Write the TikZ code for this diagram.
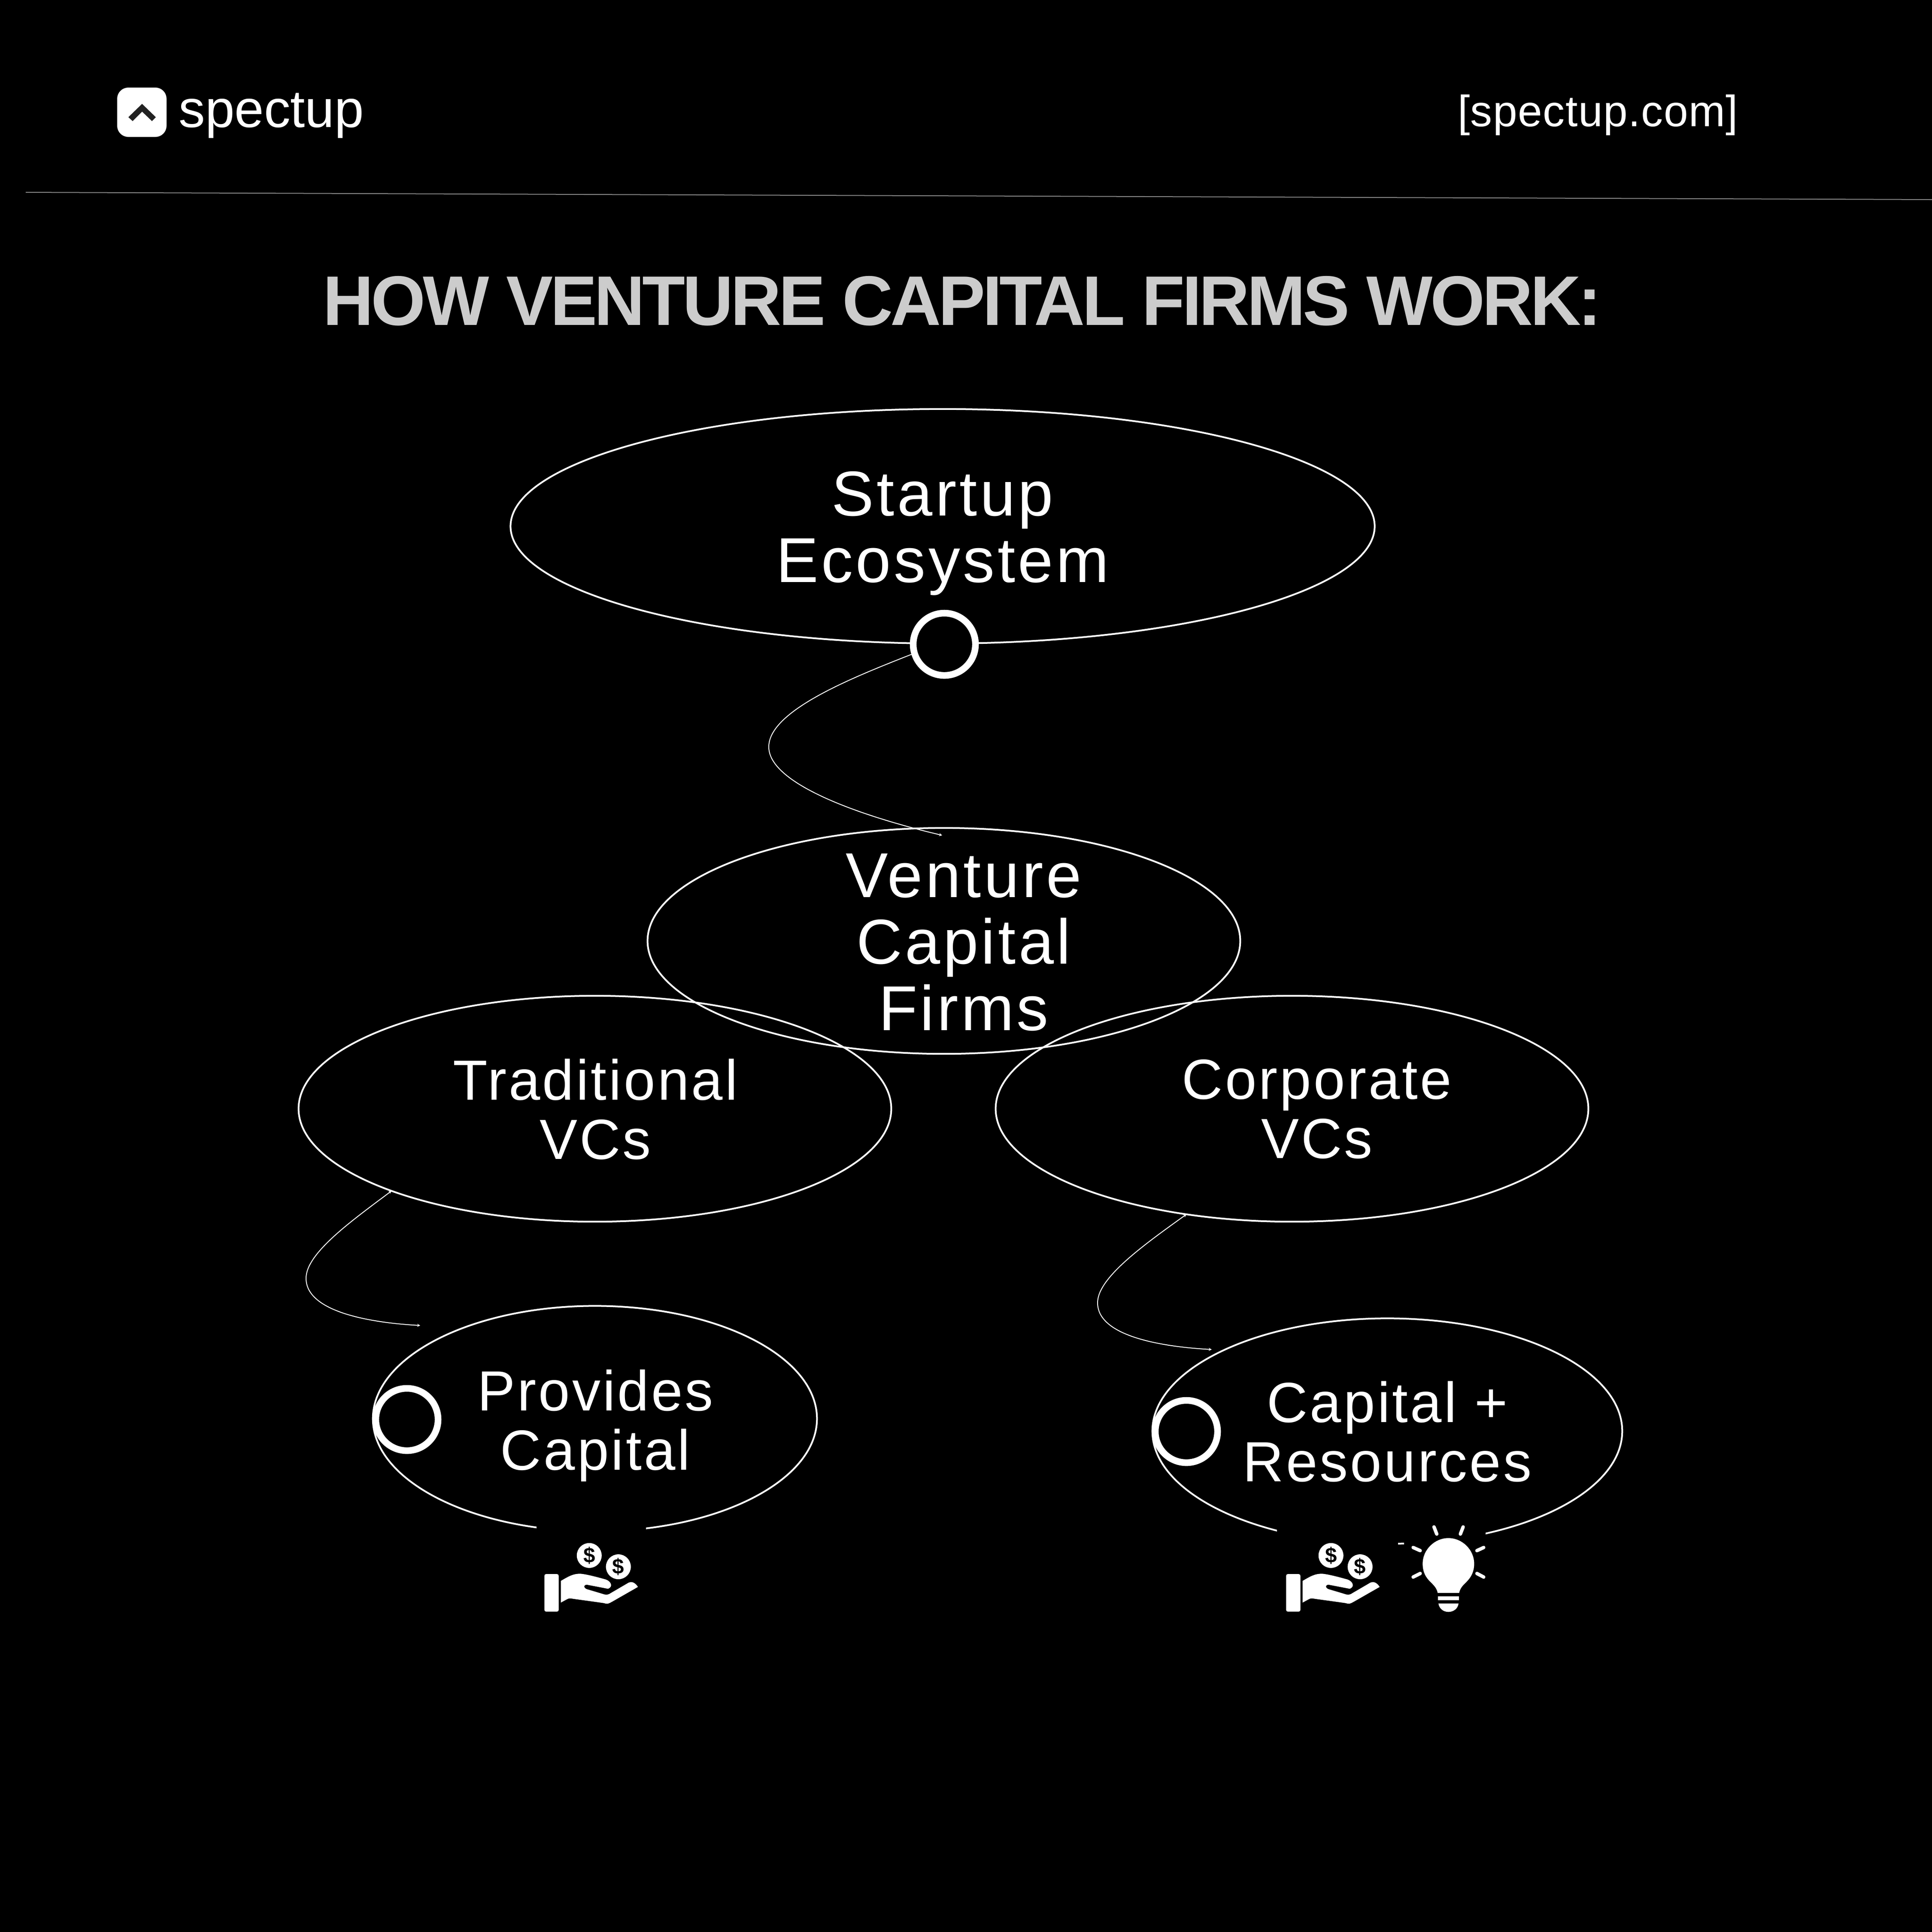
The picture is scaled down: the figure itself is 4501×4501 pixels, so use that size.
\documentclass[tikz,border=0pt]{standalone}
\usepackage{fontspec}
\setmainfont{Liberation Sans}
\newfontfamily\lab[LetterSpace=4.5]{Liberation Sans}
\newfontfamily\labm[LetterSpace=4]{Liberation Sans}
\newfontfamily\ttl[LetterSpace=-3.8]{Liberation Sans}
\newfontfamily\hdr[LetterSpace=1.5]{Liberation Sans}
\usetikzlibrary{shapes.geometric,arrows.meta}
\definecolor{titlegrey}{HTML}{CCCCCC}
\definecolor{rulegrey}{HTML}{888888}
\definecolor{chev}{HTML}{222222}
\tikzset{
  oval/.style={ellipse,draw=white,line width=0.04cm,inner sep=0,outer sep=0,minimum width=#1},
  ring/.style={circle,draw=white,fill=black,line width=0.155cm,inner sep=0,outer sep=0.07cm,minimum size=1.45cm},
  biglab/.style={align=center,text=white,inner sep=0,font=\lab\fontsize{42}{44.1}\selectfont},
  midlab/.style={align=center,text=white,inner sep=0,font=\labm\fontsize{37.5}{39.2}\selectfont},
  link/.style={draw=white,line width=0.02cm,-{Stealth[length=0.07cm,width=0.07cm]}},
  linkboth/.style={draw=white,line width=0.02cm,{Stealth[length=0.07cm,width=0.07cm]}-{Stealth[length=0.07cm,width=0.07cm]}},
  mask/.style={fill=black,draw=none},
  coin/.style={circle,fill=white,inner sep=0,minimum size=0.58cm},
  dollar/.style={text=black,inner sep=0,font=\bfseries\fontsize{14}{14}\selectfont},
  hand/.pic={
    \fill[white,rounded corners=0.04cm] (145,502) rectangle (245,765);
    \fill[white] (260,550) .. controls (320,515) and (350,498) .. (400,500)
      .. controls (450,505) and (520,525) .. (575,540)
      .. controls (610,552) and (630,590) .. (590,605)
      -- (445,577) .. controls (420,575) and (415,595) .. (440,607)
      -- (550,640) .. controls (580,650) and (590,648) .. (610,635)
      -- (735,562) .. controls (765,550) and (785,570) .. (800,592)
      -- (620,695) .. controls (590,712) and (585,712) .. (560,705)
      -- (345,675) .. controls (320,670) and (315,672) .. (300,680)
      -- (260,702) -- cycle;
    \node[coin] at (459,372) {};
    \node[coin] at (663,451) {};
    \node[dollar] at (459,372) {\$};
    \node[dollar] at (663,451) {\$};
  }
}
\begin{document}
\begin{tikzpicture}[x=0.01cm,y=-0.01cm]
\useasboundingbox (0,0) rectangle (4501,4501);
\fill[black] (0,0) rectangle (4501,4501);

% header
\fill[white,rounded corners=0.26cm] (273,204) rectangle (388,319);
\fill[chev] (299,273) -- (331,242) -- (363,273) -- (354,282) -- (331,260) -- (309,282) -- cycle;
\node[anchor=base west,inner sep=0,text=white,font=\fontsize{35}{36}\selectfont] (brand) at (416,296) {spectup};
\node[anchor=base east,inner sep=0,text=white,font=\hdr\fontsize{29}{30}\selectfont] (site) at (4050,294) {[spectup.com]};
\coordinate (ruleL) at (60,448);
\coordinate (ruleR) at (4501,465);
\draw[rulegrey,line width=0.02cm] (ruleL) -- (ruleR);
\node[anchor=base,inner sep=0,text=titlegrey,font=\ttl\bfseries\fontsize{46.5}{50}\selectfont] (title) at (2242,757) {HOW VENTURE CAPITAL FIRMS WORK:};

% ovals
\node[oval=20.12cm,minimum height=5.46cm] (eco) at (2196,1226) {};
\node[oval=13.80cm,minimum height=5.26cm] (vcf) at (2199,2192) {};
\node[oval=13.80cm,minimum height=5.26cm] (trad) at (1386,2583) {};
\node[oval=13.80cm,minimum height=5.26cm] (corp) at (3010,2583) {};
\node[oval=10.34cm,minimum height=5.25cm] (prov) at (1386,3305) {};
\node[oval=10.94cm,minimum height=5.25cm] (res) at (3232,3334) {};

% gaps behind icons
\fill[mask] (1250,3530) rectangle (1505,3800);
\fill[mask] (2975,3530) rectangle (3257,3800);
\fill[mask] (3271,3530) rectangle (3461,3800);

% rings
\node[ring] (r1) at (2200,1501) {};
\node[ring] (r2) at (948,3307) {};
\node[ring] (r3) at (2764,3335) {};

% connectors
\coordinate (e1) at (2195,1946);
\coordinate (e2) at (979,3088);
\coordinate (e3) at (2823,3144);
\draw[link] (r1.197) .. controls (1990,1577) and (1791,1655) .. (1791,1740)
  .. controls (1791,1825) and (2000,1900) .. (e1);
\draw[linkboth] (trad.202.6) .. controls (818,2845) and (713,2920) .. (713,2978)
  .. controls (713,3050) and (840,3080) .. (e2);
\draw[linkboth] (corp.225.6) .. controls (2665,2900) and (2557,2977) .. (2557,3035)
  .. controls (2557,3107) and (2684,3136) .. (e3);

% labels
\node[biglab] (l1) at (2196,1243) {Startup\\Ecosystem};
\node[biglab] (l2) at (2245,2195) {Venture\\Capital\\Firms};
\node[midlab] (l3) at (1387,2584) {Traditional\\VCs};
\node[midlab] (l4) at (3068,2584) {Corporate\\VCs};
\node[midlab] (l5) at (1387,3321) {Provides\\Capital};
\node[midlab] (l6) at (3232,3335) {Capital +\\Resources};

% icons
\begin{scope}[shift={(1220,3500)},x=0.003333cm,y=-0.003333cm]
  \pic {hand};
\end{scope}
\begin{scope}[shift={(2948,3500)},x=0.003333cm,y=-0.003333cm]
  \pic {hand};
\end{scope}
\begin{scope}[shift={(2950,3500)},x=0.003571cm,y=-0.003333cm]
  \fill[white] (1118,634) .. controls (1110,590) and (1080,570) .. (1060,545)
    .. controls (1035,515) and (1020,480) .. (1020,430)
    .. controls (1020,330) and (1100,250) .. (1188,250)
    .. controls (1276,250) and (1356,330) .. (1356,430)
    .. controls (1356,480) and (1340,515) .. (1316,545)
    .. controls (1296,570) and (1266,590) .. (1258,634) -- cycle;
  \fill[white] (1121,658) rectangle (1256,684);
  \fill[white] (1123,708) -- (1254,708) .. controls (1250,745) and (1220,767) .. (1188,767)
    .. controls (1156,767) and (1128,745) .. (1123,708) -- cycle;
  \draw[white,line width=0.08cm,line cap=round]
    (1094,172) -- (1112,222) (1284,172) -- (1266,222)
    (958,316) -- (1004,338) (1418,316) -- (1374,338)
    (958,523) -- (1004,498) (1418,523) -- (1374,498);
\end{scope}
\end{tikzpicture}
\end{document}
